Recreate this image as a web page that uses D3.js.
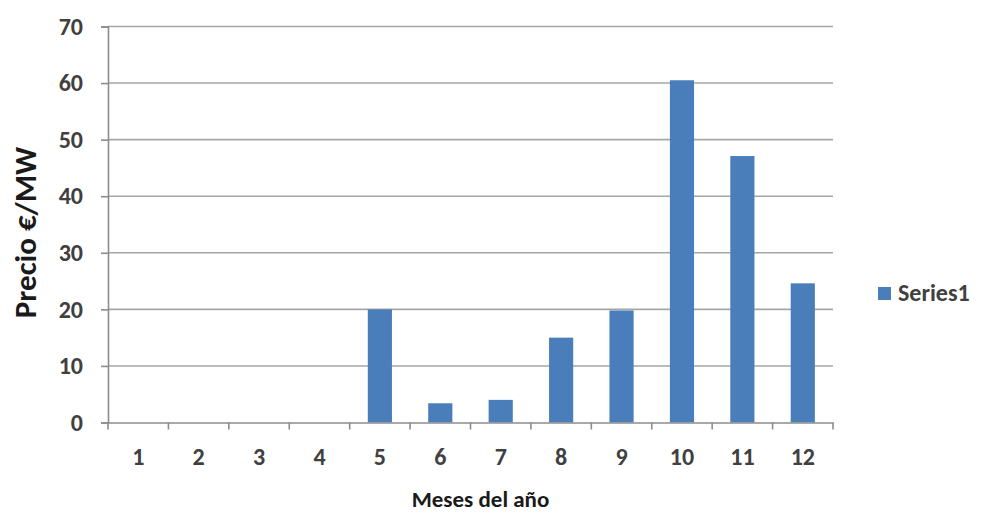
<!DOCTYPE html>
<html>
<head>
<meta charset="utf-8">
<script src="https://cdn.jsdelivr.net/npm/d3@7"></script>
<style>
  html, body { margin: 0; padding: 0; background: #fff; }
  svg { display: block; }
</style>
</head>
<body>
<svg id="chart" width="989" height="514"></svg>
<script>
// Monthly price data
const months = ["1", "2", "3", "4", "5", "6", "7", "8", "9", "10", "11", "12"];
const series1 = [0, 0, 0, 0, 20, 3.4, 4, 15, 19.8, 60.5, 47.1, 24.6];
const yTicks = [0, 10, 20, 30, 40, 50, 60, 70];
const seriesName = "Series1";

const svg = d3.select("#chart");
const margin = { left: 108, right: 156, top: 26.5, bottom: 91.5 };
const W = 989, H = 514;
const font = "Carlito, Lato, 'Open Sans', sans-serif";

const x = d3.scaleBand()
  .domain(months)
  .range([margin.left, W - margin.right])
  .paddingInner(0.6)
  .paddingOuter(0.3);

const xBand = d3.scaleBand()
  .domain(months)
  .range([margin.left, W - margin.right]);

const y = d3.scaleLinear()
  .domain([0, 70])
  .range([H - margin.bottom, margin.top]);

// horizontal gridlines
svg.append("g")
  .selectAll("line")
  .data(yTicks.filter(d => d > 0))
  .join("line")
  .attr("x1", margin.left)
  .attr("x2", W - margin.right)
  .attr("y1", d => y(d))
  .attr("y2", d => y(d))
  .attr("stroke", "#a6a6a6")
  .attr("stroke-width", 1.6);

// bars
svg.append("g")
  .selectAll("rect")
  .data(series1)
  .join("rect")
  .attr("x", (d, i) => x(months[i]))
  .attr("width", x.bandwidth())
  .attr("y", d => y(d))
  .attr("height", d => y(0) - y(d))
  .attr("fill", "#4a7ebb");

// y axis
const yAxis = d3.axisLeft(y).tickValues(yTicks).tickSize(7).tickPadding(18);
const gy = svg.append("g")
  .attr("transform", `translate(${margin.left},0)`)
  .call(yAxis);
gy.select(".domain").attr("stroke", "#8c8c8c").attr("stroke-width", 1.6);
gy.selectAll(".tick line").attr("stroke", "#8c8c8c").attr("stroke-width", 1.6);
gy.selectAll(".tick text")
  .attr("font-family", font)
  .attr("font-size", 24)
  .attr("font-weight", "bold")
  .attr("fill", "#404040");

// x axis with ticks at band boundaries
const xAxis = d3.axisBottom(xBand).tickSize(0).tickPadding(25);
const gx = svg.append("g")
  .attr("transform", `translate(0,${y(0)})`)
  .call(xAxis);
gx.select(".domain").attr("stroke", "#8c8c8c").attr("stroke-width", 1.6);
gx.selectAll(".tick text")
  .attr("font-family", font)
  .attr("font-size", 24)
  .attr("font-weight", "bold")
  .attr("fill", "#404040");

const bounds = months.map(m => xBand(m)).concat([xBand(months[months.length - 1]) + xBand.bandwidth()]);
gx.append("g")
  .selectAll("line")
  .data(bounds)
  .join("line")
  .attr("x1", d => d)
  .attr("x2", d => d)
  .attr("y1", 0)
  .attr("y2", 7)
  .attr("stroke", "#8c8c8c")
  .attr("stroke-width", 1.6);

// axis titles
svg.append("text")
  .attr("transform", `translate(36,${(margin.top + H - margin.bottom) / 2 + 8}) rotate(-90)`)
  .attr("text-anchor", "middle")
  .attr("font-family", font)
  .attr("font-size", 31)
  .attr("font-weight", "bold")
  .attr("fill", "#1a1a1a")
  .text("Precio €/MW");

svg.append("text")
  .attr("x", (margin.left + W - margin.right) / 2 + 10)
  .attr("y", 507)
  .attr("text-anchor", "middle")
  .attr("font-family", font)
  .attr("font-size", 23)
  .attr("font-weight", "bold")
  .attr("fill", "#1a1a1a")
  .text("Meses del año");

// legend
const lg = svg.append("g").attr("transform", "translate(878,287)");
lg.append("rect").attr("width", 13).attr("height", 13).attr("fill", "#4a7ebb");
lg.append("text")
  .attr("x", 20)
  .attr("y", 14)
  .attr("font-family", font)
  .attr("font-size", 24)
  .attr("font-weight", "bold")
  .attr("fill", "#404040")
  .text(seriesName);
</script>
</body>
</html>
